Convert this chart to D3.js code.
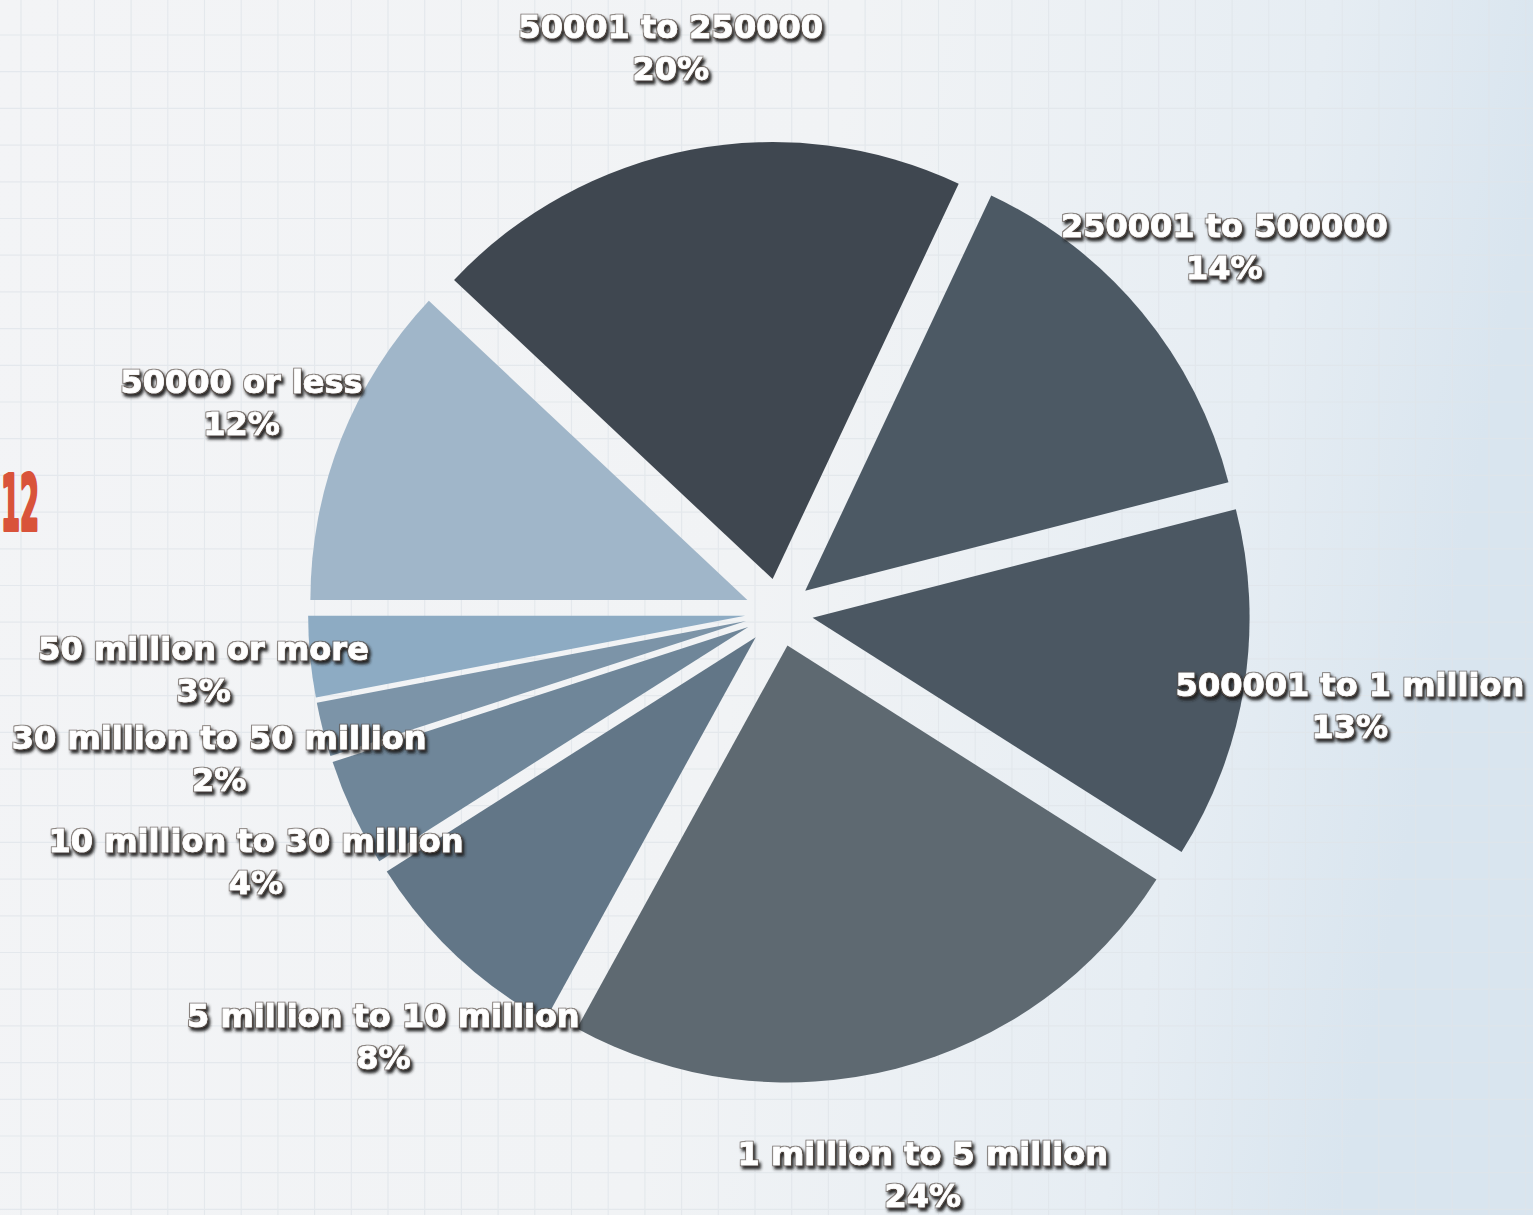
<!DOCTYPE html>
<html>
<head>
<meta charset="utf-8">
<script src="https://cdn.jsdelivr.net/npm/d3@7"></script>
<style>
  html, body { margin: 0; padding: 0; overflow: hidden; background: #f2f4f6; }
  svg { display: block; }
</style>
</head>
<body>
<script>
// Revenue bands and their share of respondents
const categories = [
  "50000 or less",
  "50001 to 250000",
  "250001 to 500000",
  "500001 to 1 million",
  "1 million to 5 million",
  "5 million to 10 million",
  "10 million to 30 million",
  "30 million to 50 million",
  "50 million or more"
];
const shares = [12, 20, 14, 13, 24, 8, 4, 2, 3];
const sliceColors = [
  "#a0b6c9", "#3f4750", "#4c5964", "#4b5762", "#5e6971",
  "#627687", "#6f8699", "#7c94a8", "#8dabc3"
];

const W = 1533, H = 1215;
const cx = 779, cy = 612.5;
const radius = 437;
const explode = 34;
const labelRadius = 578;

const svg = d3.select("body").append("svg")
  .attr("width", W).attr("height", H);

const defs = svg.append("defs");

// Page background: pale paper with a cool blue wash toward the right
const bg = defs.append("linearGradient").attr("id", "bgGrad")
  .attr("x1", "0").attr("y1", "0").attr("x2", "1").attr("y2", "0.15");
bg.append("stop").attr("offset", "0").attr("stop-color", "#f3f4f6");
bg.append("stop").attr("offset", "0.55").attr("stop-color", "#f1f3f5");
bg.append("stop").attr("offset", "0.85").attr("stop-color", "#e6edf3");
bg.append("stop").attr("offset", "1").attr("stop-color", "#d9e5ef");

// Embossed label look: tight dark rim plus a soft drop shadow
const shadow = defs.append("filter").attr("id", "textShadow")
  .attr("x", "-10%").attr("y", "-30%").attr("width", "120%").attr("height", "170%");
shadow.append("feMorphology").attr("in", "SourceAlpha").attr("operator", "dilate")
  .attr("radius", 0.8).attr("result", "rim");
shadow.append("feOffset").attr("in", "rim").attr("dx", 2).attr("dy", 2.5).attr("result", "off");
shadow.append("feGaussianBlur").attr("in", "off").attr("stdDeviation", 1.6).attr("result", "blur");
shadow.append("feFlood").attr("flood-color", "#1e1e1e").attr("flood-opacity", 0.95);
shadow.append("feComposite").attr("in2", "blur").attr("operator", "in").attr("result", "shade");
shadow.append("feFlood").attr("flood-color", "#5a4f48").attr("flood-opacity", 0.7);
shadow.append("feComposite").attr("in2", "rim").attr("operator", "in").attr("result", "edge");
const merge = shadow.append("feMerge");
merge.append("feMergeNode").attr("in", "shade");
merge.append("feMergeNode").attr("in", "edge");
merge.append("feMergeNode").attr("in", "SourceGraphic");

svg.append("rect").attr("width", W).attr("height", H).attr("fill", "url(#bgGrad)");

// Graph-paper grid
const step = 36.7;
const grid = svg.append("g").attr("stroke", "#e0e5ea").attr("stroke-width", 1.2).attr("opacity", 0.75);
grid.selectAll("line.v")
  .data(d3.range(21 - step, W + step, step))
  .join("line").attr("class", "v")
  .attr("x1", d => d).attr("x2", d => d).attr("y1", 0).attr("y2", H);
grid.selectAll("line.h")
  .data(d3.range(35 - step, H + step, step))
  .join("line").attr("class", "h")
  .attr("y1", d => d).attr("y2", d => d).attr("x1", 0).attr("x2", W);

// Page number in the left margin
svg.append("text")
  .attr("transform", "translate(1,530) scale(0.36,1)")
  .attr("text-anchor", "start")
  .attr("font-family", "DejaVu Sans")
  .attr("font-weight", "bold")
  .attr("font-size", 76)
  .attr("fill", "#d9533a")
  .attr("stroke", "#d9533a")
  .attr("stroke-width", 4)
  .attr("stroke-linejoin", "round")
  .text("12");

// Pie, starting at 9 o'clock and running clockwise
const pie = d3.pie().sort(null).value(d => d)
  .startAngle(-Math.PI / 2).endAngle(3 * Math.PI / 2);
const arcs = pie(shares);

const arc = d3.arc().innerRadius(0).outerRadius(radius);
const labelArc = d3.arc().innerRadius(labelRadius).outerRadius(labelRadius);

const g = svg.append("g").attr("transform", `translate(${cx},${cy})`);

g.selectAll("path.slice")
  .data(arcs)
  .join("path")
  .attr("class", "slice")
  .attr("d", arc)
  .attr("fill", (d, i) => sliceColors[i])
  .attr("transform", d => {
    const mid = (d.startAngle + d.endAngle) / 2;
    return `translate(${Math.sin(mid) * explode},${-Math.cos(mid) * explode})`;
  });

// Two-line labels: band name and share
const labels = g.selectAll("text.label")
  .data(arcs)
  .join("text")
  .attr("class", "label")
  .attr("transform", d => `translate(${labelArc.centroid(d)})`)
  .attr("text-anchor", "middle")
  .attr("font-family", "DejaVu Sans")
  .attr("font-weight", "bold")
  .attr("font-size", 32)
  .attr("fill", "#ffffff")
  .attr("stroke", "#ffffff")
  .attr("stroke-width", 0.7)
  .attr("filter", "url(#textShadow)");

labels.append("tspan")
  .attr("x", 0).attr("y", -7)
  .text((d, i) => categories[i]);
labels.append("tspan")
  .attr("x", 0).attr("y", 35)
  .text(d => d.data + "%");
</script>
</body>
</html>
